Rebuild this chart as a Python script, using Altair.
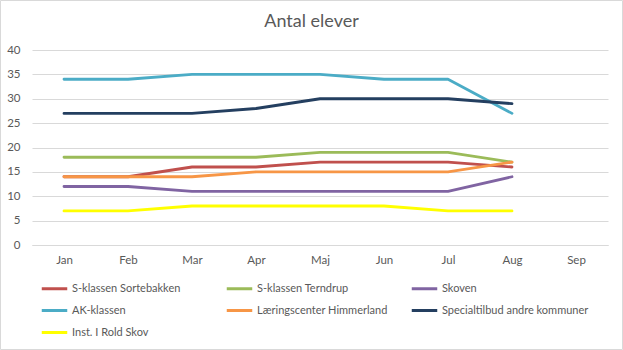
import altair as alt
import pandas as pd

months = ["Jan", "Feb", "Mar", "Apr", "Maj", "Jun", "Jul", "Aug", "Sep"]
data_months = ["Jan", "Feb", "Mar", "Apr", "Maj", "Jun", "Jul", "Aug"]

series_names = [
    "S-klassen Sortebakken",
    "S-klassen Terndrup",
    "Skoven",
    "AK-klassen",
    "Læringscenter Himmerland",
    "Specialtilbud andre kommuner",
    "Inst. I Rold Skov",
]
colors = ["#C0504D", "#9BBB59", "#8064A2", "#4BACC6", "#F79646", "#243F60", "#FFFF00"]

sortebakken = [14, 14, 16, 16, 17, 17, 17, 16]
terndrup = [18, 18, 18, 18, 19, 19, 19, 17]
skoven = [12, 12, 11, 11, 11, 11, 11, 14]
ak_klassen = [34, 34, 35, 35, 35, 34, 34, 27]
laeringscenter = [14, 14, 14, 15, 15, 15, 15, 17]
specialtilbud = [27, 27, 27, 28, 30, 30, 30, 29]
rold_skov = [7, 7, 8, 8, 8, 8, 7, 7]

title_text = "Antal elever"

all_values = [sortebakken, terndrup, skoven, ak_klassen, laeringscenter, specialtilbud, rold_skov]

rows = []
for name, vals in zip(series_names, all_values):
    for i, (m, v) in enumerate(zip(data_months, vals)):
        rows.append({"series": name, "month": m, "value": v, "order": i})
df = pd.DataFrame(rows)

FONT = "Lato"
GRAY = "#595959"

lines = alt.Chart(df).mark_line(strokeWidth=2.8, strokeCap="round", strokeJoin="round").encode(
    x=alt.X("month:O", sort=months, scale=alt.Scale(domain=months, type="point", padding=0.5),
            axis=alt.Axis(title=None, labelAngle=0, ticks=False, domain=True, domainColor="#d9d9d9",
                          labelColor=GRAY, labelFontSize=11.5, labelFont=FONT, labelPadding=9, grid=False)),
    y=alt.Y("value:Q", scale=alt.Scale(domain=[0, 40], nice=False),
            axis=alt.Axis(title=None, values=[0, 5, 10, 15, 20, 25, 30, 35, 40], ticks=False, domain=False,
                          gridColor="#d9d9d9", labelColor=GRAY, labelFontSize=11.5, labelFont=FONT,
                          labelPadding=12)),
    color=alt.Color("series:N", scale=alt.Scale(domain=series_names, range=colors),
                    sort=series_names,
                    legend=alt.Legend(title=None, orient="none", legendX=8, legendY=224, columns=3,
                                      direction="horizontal", gridAlign="all", columnPadding=1, rowPadding=1,
                                      symbolType="stroke", symbolSize=650, symbolStrokeWidth=3,
                                      labelFont=FONT, labelFontSize=11, labelColor=GRAY, labelOffset=3,
                                      labelLimit=300)),
    order="order:Q",
)

border = alt.Chart(pd.DataFrame({"a": [0]})).mark_rect(fill=None, stroke="#d9d9d9", strokeWidth=1, clip=False).encode(
    x=alt.value(-31.5), x2=alt.value(590.5), y=alt.value(-49.5), y2=alt.value(299.5)
)

title = alt.Chart(pd.DataFrame({"t": [title_text]})).mark_text(
    font=FONT, fontSize=18, color=GRAY, align="center", baseline="middle", clip=False
).encode(text="t:N", x=alt.value(279.5), y=alt.value(-28))

chart = alt.layer(border, lines, title).properties(
    width=576,
    height=195,
    padding={"left": 32, "top": 50, "right": 15, "bottom": 105},
    autosize=alt.AutoSizeParams(type="none"),
    background="white",
).configure_view(stroke=None)

chart.save("out.html", embed_options={"renderer": "svg", "actions": False})
